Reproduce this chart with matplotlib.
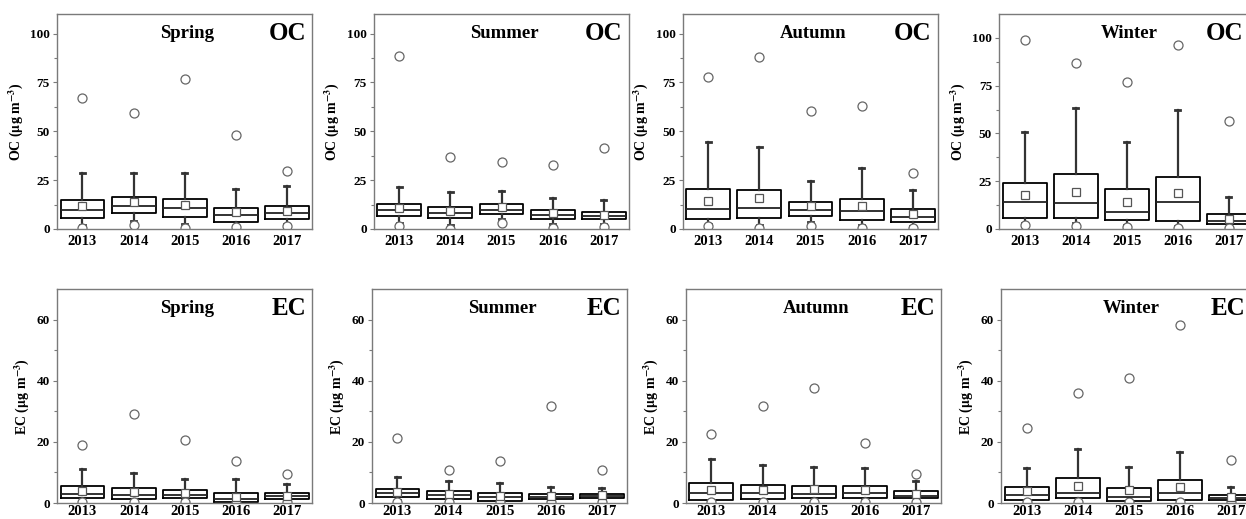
"""
Box plots of seasonal OC and EC concentrations, 2013-2017.
"""

import matplotlib
matplotlib.use("Agg")
import matplotlib.pyplot as plt

# --- Data ---
YEARS   = ["2013", "2014", "2015", "2016", "2017"]
SEASONS = ["Spring", "Summer", "Autumn", "Winter"]

# OC (ug m-3), one row per season
OC_MAX  = [[67.2, 59.2, 76.9, 48.0, 29.6],
           [88.8, 36.7, 34.4, 32.5, 41.7],
           [77.7, 88.1, 60.4, 62.9, 28.6],
           [98.8, 86.9, 77.1, 96.3, 56.7]]
OC_WHI  = [[28.6, 28.9, 28.6, 20.7, 22.1],
           [21.4, 19.0, 19.7, 15.8, 15.0],
           [44.7, 41.8, 24.8, 31.1, 19.9],
           [50.8, 63.2, 45.5, 62.5, 16.6]]
OC_Q3   = [[15.0, 16.5, 15.3, 10.5, 11.9],
           [12.6, 11.2, 12.6, 9.5, 8.8],
           [20.7, 20.2, 13.8, 15.6, 10.4],
           [23.9, 28.8, 20.8, 27.4, 8.0]]
OC_MED  = [[9.5, 11.6, 10.5, 7.3, 8.2],
           [9.5, 8.2, 9.9, 7.3, 6.8],
           [10.4, 10.7, 9.5, 9.0, 6.3],
           [14.1, 13.8, 8.7, 14.1, 4.2]]
OC_MEAN = [[11.9, 13.8, 12.4, 8.5, 9.2],
           [10.5, 9.2, 11.2, 8.2, 7.3],
           [14.5, 15.8, 11.9, 11.6, 7.7],
           [18.0, 19.2, 14.0, 18.7, 5.4]]
OC_Q1   = [[5.4, 8.2, 6.1, 3.7, 5.1],
           [6.8, 5.4, 7.8, 5.1, 5.1],
           [5.1, 5.6, 6.8, 4.4, 3.7],
           [5.6, 5.6, 4.5, 4.2, 2.4]]
OC_WLO  = [[2.0, 4.0, 2.5, 1.5, 2.5],
           [3.0, 2.0, 5.0, 2.5, 2.5],
           [2.5, 2.0, 3.5, 2.0, 1.5],
           [3.0, 3.0, 2.0, 1.5, 1.0]]
OC_MIN  = [[0.5, 2.0, 0.5, 0.8, 1.7],
           [1.4, 0.0, 3.1, 0.7, 0.8],
           [1.4, 0.3, 1.7, 0.7, 0.7],
           [1.9, 1.6, 1.0, 0.3, 0.5]]

# EC (ug m-3)
EC_MAX  = [[18.9, 29.1, 20.6, 13.6, 9.6],
           [21.3, 10.9, 13.6, 31.6, 10.7],
           [22.7, 31.6, 37.8, 19.8, 9.4],
           [24.6, 36.0, 40.9, 58.3, 14.0]]
EC_WHI  = [[11.0, 9.9, 7.7, 7.9, 6.2],
           [8.5, 7.3, 6.5, 5.2, 4.8],
           [14.3, 12.6, 11.8, 11.3, 7.3],
           [11.5, 17.7, 11.8, 16.8, 5.3]]
EC_Q3   = [[5.5, 4.8, 4.3, 3.2, 3.2],
           [4.7, 3.8, 3.3, 2.9, 3.1],
           [6.7, 5.9, 5.7, 5.6, 4.0],
           [5.3, 8.1, 4.8, 7.6, 2.7]]
EC_MED  = [[2.8, 2.7, 2.6, 1.4, 2.2],
           [3.3, 2.7, 1.9, 2.1, 2.3],
           [3.4, 3.4, 3.1, 3.3, 2.4],
           [2.6, 3.4, 2.0, 3.4, 1.7]]
EC_MEAN = [[3.9, 3.7, 3.3, 1.9, 2.3],
           [3.7, 2.8, 2.2, 2.3, 2.5],
           [4.4, 4.4, 4.6, 4.1, 3.1],
           [3.9, 5.5, 4.4, 5.2, 2.1]]
EC_Q1   = [[1.5, 1.3, 1.7, 0.2, 1.3],
           [1.9, 1.4, 0.8, 1.2, 1.5],
           [1.1, 1.3, 1.5, 1.7, 1.5],
           [1.1, 1.5, 0.7, 1.1, 1.1]]
EC_WLO  = [[0.8, 0.7, 0.9, 0.1, 0.7],
           [1.0, 0.8, 0.4, 0.6, 0.8],
           [0.6, 0.7, 0.8, 0.9, 0.8],
           [0.6, 0.8, 0.4, 0.6, 0.6]]
EC_MIN  = [[0.4, 0.4, 0.2, 0.0, 0.2],
           [0.4, 0.4, 0.2, 0.2, 0.2],
           [0.2, 0.4, 0.4, 0.2, 0.4],
           [0.2, 0.4, 0.2, 0.2, 0.2]]

FIG_W, FIG_H = 12.46, 5.19
ROW_OC = dict(bottom=0.5588, height=0.414, lefts=[0.0457, 0.300, 0.548, 0.8018])
ROW_EC = dict(bottom=0.0308, height=0.412, lefts=[0.0457, 0.2985, 0.5505, 0.8034])
AX_W = 0.205

plt.rcParams["font.family"] = ["Liberation Serif", "DejaVu Serif"]
plt.rcParams["mathtext.fontset"] = "stix"
plt.rcParams["font.weight"] = "bold"

FRAME = "#7a7a7a"


def make_stats(i, s):
    mx, whi, q3, med, mean, q1, wlo, mn = s
    out = []
    for j in range(len(YEARS)):
        out.append(dict(med=med[i][j], q1=q1[i][j], q3=q3[i][j],
                        whislo=wlo[i][j], whishi=whi[i][j], mean=mean[i][j],
                        fliers=[mx[i][j], mn[i][j]], label=YEARS[j]))
    return out


def draw_panel(ax, stats, season, species, ylim, yticks, minor, xpad=4, tag_x=0.975):
    ax.bxp(stats, positions=range(1, 6), widths=0.86, showmeans=True,
           showfliers=True, patch_artist=False,
           boxprops=dict(color="black", linewidth=1.3),
           medianprops=dict(color="#222222", linewidth=1.3),
           whiskerprops=dict(color="#333333", linewidth=1.6),
           capprops=dict(color="#333333", linewidth=2.0),
           capwidths=0.1,
           meanprops=dict(marker="s", markerfacecolor="white",
                          markeredgecolor="#555555", markersize=6,
                          markeredgewidth=0.9),
           flierprops=dict(marker="o", markerfacecolor="white",
                           markeredgecolor="#666666", markersize=6.5,
                           markeredgewidth=0.9))
    ax.set_xlim(0.5, 5.5)
    ax.set_ylim(*ylim)
    ax.set_yticks(yticks)
    ax.set_yticks(minor, minor=True)
    ax.set_xticks(range(1, 6))
    ax.set_xticklabels(YEARS, fontsize=10.5, fontweight="bold")
    ax.tick_params(axis="x", length=0, pad=xpad)
    ax.tick_params(axis="y", which="major", length=3, width=0.8,
                   color=FRAME, labelsize=9.5, pad=2)
    ax.tick_params(axis="y", which="minor", length=2, width=0.8, color=FRAME)
    for lab in ax.get_yticklabels():
        lab.set_fontweight("bold")
    for sp in ax.spines.values():
        sp.set_color(FRAME)
        sp.set_linewidth(1.0)
    ax.set_ylabel(species + r" ($\mathbf{\mu}$g m$^{-3}$)",
                  fontsize=10, fontweight="bold", labelpad=4)
    ax.text(0.51, 0.91, season, transform=ax.transAxes, ha="center",
            va="center", fontsize=13.5, fontweight="bold")
    ax.text(tag_x, 0.91, species, transform=ax.transAxes, ha="right",
            va="center", fontsize=18, fontweight="bold")


def main():
    fig = plt.figure(figsize=(FIG_W, FIG_H), dpi=100)
    oc = (OC_MAX, OC_WHI, OC_Q3, OC_MED, OC_MEAN, OC_Q1, OC_WLO, OC_MIN)
    ec = (EC_MAX, EC_WHI, EC_Q3, EC_MED, EC_MEAN, EC_Q1, EC_WLO, EC_MIN)

    for i, season in enumerate(SEASONS):
        # the last column runs past the right edge, keep its tag inside
        tag_x = 0.955 if season == "Winter" else 0.975

        ax = fig.add_axes([ROW_OC["lefts"][i], ROW_OC["bottom"], AX_W, ROW_OC["height"]])
        ytop = 112.5 if season == "Winter" else 110
        draw_panel(ax, make_stats(i, oc), season, "OC", (0, ytop),
                   [0, 25, 50, 75, 100], [12.5, 37.5, 62.5, 87.5], tag_x=tag_x)

        ax = fig.add_axes([ROW_EC["lefts"][i], ROW_EC["bottom"], AX_W, ROW_EC["height"]])
        draw_panel(ax, make_stats(i, ec), season, "EC", (0, 70),
                   [0, 20, 40, 60], [10, 30, 50], xpad=1.5, tag_x=tag_x)

    fig.savefig("out.png", dpi=100)
    plt.close(fig)


if __name__ == "__main__":
    main()
